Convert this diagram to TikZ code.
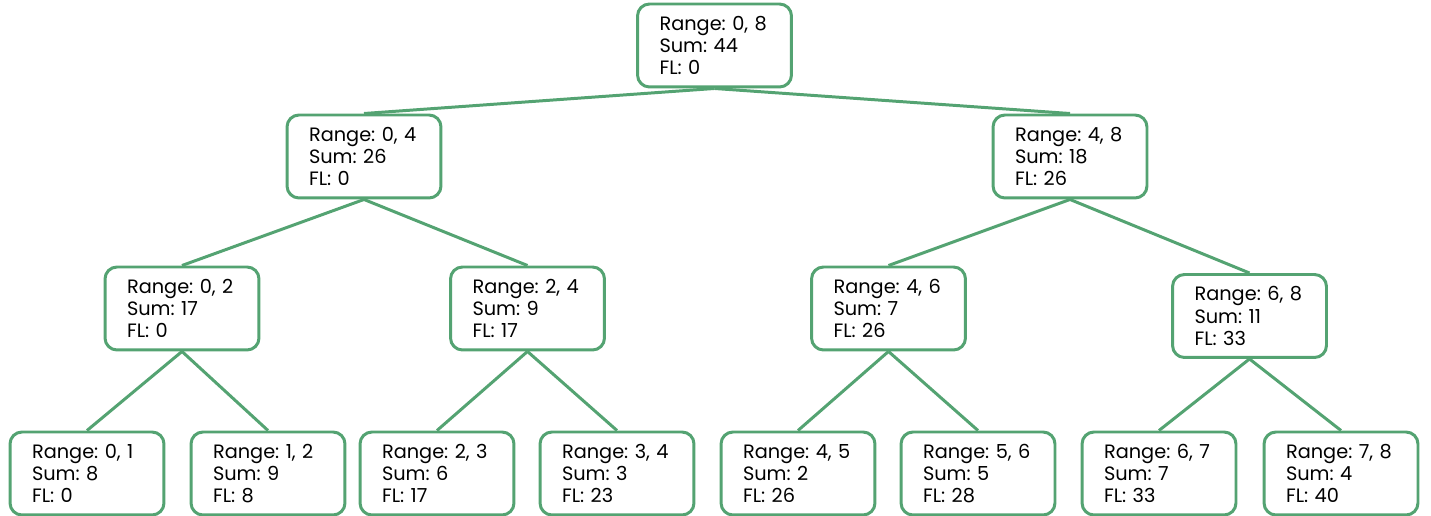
\documentclass[tikz,border=0pt]{standalone}
\usepackage{fontspec}
\setmainfont{Poppins}
\usepackage{xcolor}
\usetikzlibrary{positioning}
\definecolor{segedge}{RGB}{84, 163, 114}
\frenchspacing

\begin{document}
\begin{tikzpicture}[x=0.02cm, y=-0.02cm,
    seg/.style={rectangle, rounded corners=0.24cm, draw=segedge, line width=1.7pt, fill=white,
                minimum width=3.08cm, minimum height=1.66cm, inner sep=0pt,
                text width=2.2cm, align=left, font=\fontsize{11}{12.7}\selectfont},
    link/.style={draw=segedge, line width=1.7pt}]
    \useasboundingbox (0,0) rectangle (1431,516);

    % Root
    \node[seg] (r08) at (714.5, 45.5) {Range: 0, 8\\Sum: 44\\FL: 0};

    % Level 1
    \node[seg] (r04) at (364, 156.5) {Range: 0, 4\\Sum: 26\\FL: 0};
    \node[seg] (r48) at (1070, 156.5) {Range: 4, 8\\Sum: 18\\FL: 26};

    % Level 2
    \node[seg] (r02) at (182, 308.5) {Range: 0, 2\\Sum: 17\\FL: 0};
    \node[seg] (r24) at (527.5, 308.5) {Range: 2, 4\\Sum: 9\\FL: 17};
    \node[seg] (r46) at (888.5, 308.5) {Range: 4, 6\\Sum: 7\\FL: 26};
    \node[seg] (r68) at (1249.5, 316) {Range: 6, 8\\Sum: 11\\FL: 33};

    % Leaves
    \node[seg] (r01) at (87, 473.5) {Range: 0, 1\\Sum: 8\\FL: 0};
    \node[seg] (r12) at (268, 473.5) {Range: 1, 2\\Sum: 9\\FL: 8};
    \node[seg] (r23) at (437, 473.5) {Range: 2, 3\\Sum: 6\\FL: 17};
    \node[seg] (r34) at (617, 473.5) {Range: 3, 4\\Sum: 3\\FL: 23};
    \node[seg] (r45) at (798, 473.5) {Range: 4, 5\\Sum: 2\\FL: 26};
    \node[seg] (r56) at (978, 473.5) {Range: 5, 6\\Sum: 5\\FL: 28};
    \node[seg] (r67) at (1159, 473.5) {Range: 6, 7\\Sum: 7\\FL: 33};
    \node[seg] (r78) at (1341, 473.5) {Range: 7, 8\\Sum: 4\\FL: 40};

    % Edges
    \draw[link] (r08.south) -- (r04.north);
    \draw[link] (r08.south) -- (r48.north);
    \draw[link] (r04.south) -- (r02.north);
    \draw[link] (r04.south) -- (r24.north);
    \draw[link] (r48.south) -- (r46.north);
    \draw[link] (r48.south) -- (r68.north);
    \draw[link] (r02.south) -- (r01.north);
    \draw[link] (r02.south) -- (r12.north);
    \draw[link] (r24.south) -- (r23.north);
    \draw[link] (r24.south) -- (r34.north);
    \draw[link] (r46.south) -- (r45.north);
    \draw[link] (r46.south) -- (r56.north);
    \draw[link] (r68.south) -- (r67.north);
    \draw[link] (r68.south) -- (r78.north);
\end{tikzpicture}
\end{document}
